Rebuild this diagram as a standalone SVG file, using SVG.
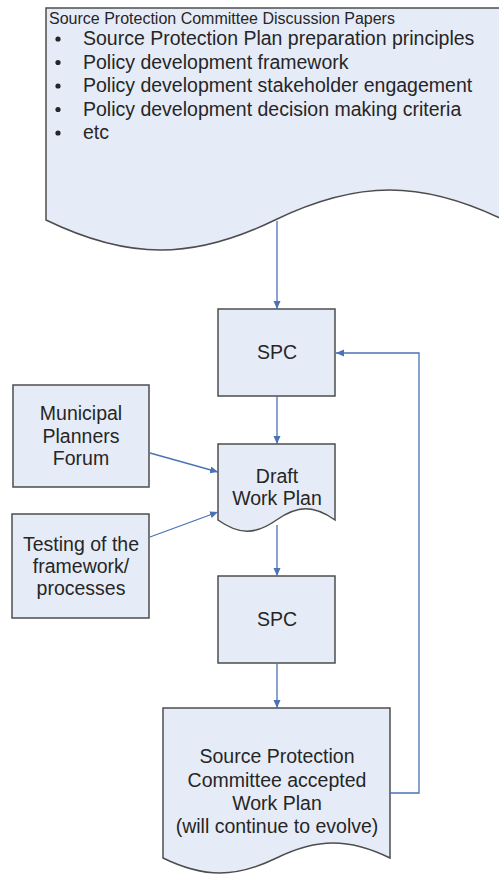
<svg xmlns="http://www.w3.org/2000/svg" width="499" height="874" viewBox="0 0 499 874">
  <defs>
    <marker id="arr" markerUnits="userSpaceOnUse" markerWidth="9" markerHeight="8" refX="8" refY="3.5" orient="auto">
      <path d="M0,0 L8,3.5 L0,7 Z" fill="#4a72b5"/>
    </marker>
    <style>
      .node { fill: #e6ecf7; stroke: #4d4d4d; stroke-width: 1.5; }
      .txt { font-family: "Liberation Sans", Arial, sans-serif; font-size: 19.5px; fill: #262626; text-anchor: middle; }
      .lst { font-family: "Liberation Sans", Arial, sans-serif; font-size: 19.5px; fill: #262626; }
      .hdr { font-family: "Liberation Sans", Arial, sans-serif; font-size: 16px; fill: #262626; }
      .con { fill: none; stroke: #4a72b5; stroke-width: 1.3; marker-end: url(#arr); }
    </style>
  </defs>
  <rect width="499" height="874" fill="#ffffff"/>

  <g id="papers">
    <path class="node" d="M46,8 H504 V220 C421.6,180 357.4,180 275,220 C192.6,260 128.4,260 46,220 Z"/>
    <text class="hdr" x="49" y="24">Source Protection Committee Discussion Papers</text>
    <g fill="#262626">
      <circle cx="58" cy="39" r="2.6"/>
      <circle cx="58" cy="62.5" r="2.6"/>
      <circle cx="58" cy="86" r="2.6"/>
      <circle cx="58" cy="109.5" r="2.6"/>
      <circle cx="58" cy="133" r="2.6"/>
    </g>
    <text class="lst" x="83" y="45">Source Protection Plan preparation principles</text>
    <text class="lst" x="83" y="68.5">Policy development framework</text>
    <text class="lst" x="83" y="92">Policy development stakeholder engagement</text>
    <text class="lst" x="83" y="115.5">Policy development decision making criteria</text>
    <text class="lst" x="83" y="139">etc</text>
  </g>

  <g id="spc1">
    <rect class="node" x="218" y="309" width="117" height="87"/>
    <text class="txt" x="277" y="359">SPC</text>
  </g>

  <g id="municipal">
    <rect class="node" x="13" y="385" width="136" height="102"/>
    <text class="txt" x="81" y="420">Municipal</text>
    <text class="txt" x="81" y="443">Planners</text>
    <text class="txt" x="81" y="465">Forum</text>
  </g>

  <g id="draft">
    <path class="node" d="M218,444 H335 V520 C314,505 297.6,505 276.5,520 C255.4,535 239,535 218,520 Z"/>
    <text class="txt" x="277" y="483">Draft</text>
    <text class="txt" x="277" y="505">Work Plan</text>
  </g>

  <g id="testing">
    <rect class="node" x="12" y="514" width="137" height="104"/>
    <text class="txt" x="81" y="551">Testing of the</text>
    <text class="txt" x="81" y="573">framework/</text>
    <text class="txt" x="81" y="595">processes</text>
  </g>

  <g id="spc2">
    <rect class="node" x="218" y="576" width="117" height="87"/>
    <text class="txt" x="277" y="626">SPC</text>
  </g>

  <g id="accepted">
    <path class="node" d="M163,708 H390 V858 C349,838 317.4,838 276.5,858 C235.6,878 204,878 163,858 Z"/>
    <text class="txt" x="277" y="763">Source Protection</text>
    <text class="txt" x="277" y="787">Committee accepted</text>
    <text class="txt" x="277" y="810">Work Plan</text>
    <text class="txt" x="277" y="833">(will continue to evolve)</text>
  </g>

  <g id="connectors">
    <path class="con" d="M277,221 V309"/>
    <path class="con" d="M277,396 V444"/>
    <path class="con" d="M277,525 V576"/>
    <path class="con" d="M277,663 V708"/>
    <path class="con" d="M150,453 L218,472"/>
    <path class="con" d="M150,537 L218,512"/>
    <path class="con" d="M390,793 H419 V353 H336"/>
  </g>
</svg>
